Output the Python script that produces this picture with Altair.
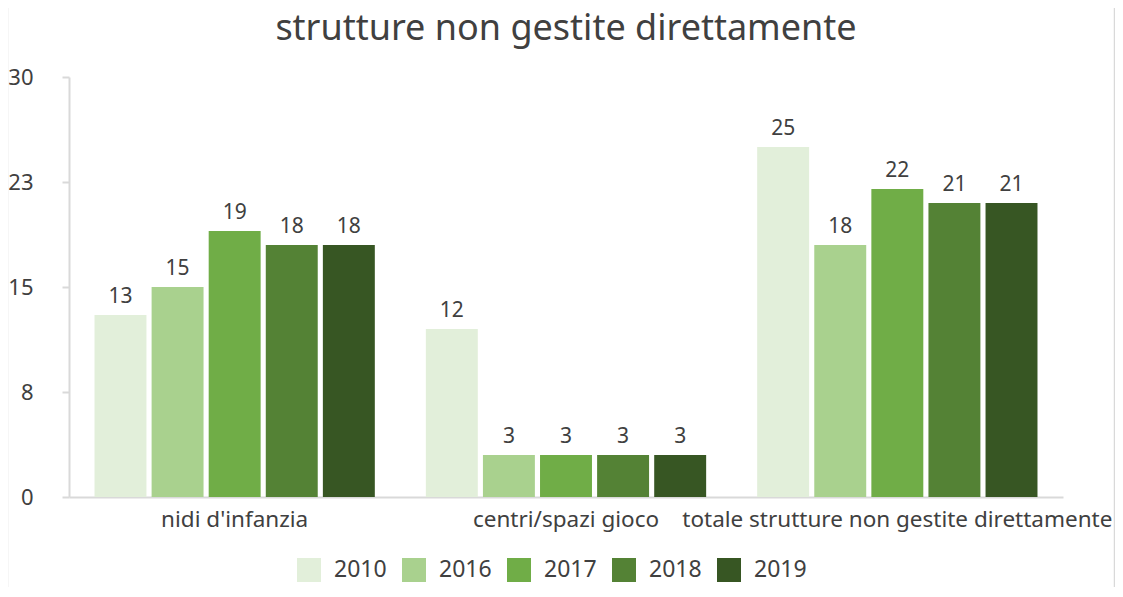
import altair as alt
import pandas as pd

categories = ["nidi d'infanzia", "centri/spazi gioco", "totale strutture non gestite direttamente"]
years = ["2010", "2016", "2017", "2018", "2019"]
v2010 = [13, 12, 25]
v2016 = [15, 3, 18]
v2017 = [19, 3, 22]
v2018 = [18, 3, 21]
v2019 = [18, 3, 21]
colors = ["#E2EFDA", "#A9D18E", "#70AD47", "#548235", "#375623"]
tick_values = [0, 7.5, 15, 22.5, 30]
tick_labels = ["0", "8", "15", "23", "30"]
title_text = "strutture non gestite direttamente"

series = [v2010, v2016, v2017, v2018, v2019]
rows = []
for y, vals in zip(years, series):
    for c, v in zip(categories, vals):
        rows.append({"categoria": c, "anno": y, "valore": v})
df = pd.DataFrame(rows)

FONT = "Noto Sans"
TXT = "#404040"
GRID = "#d9d9d9"

label_expr = ""
for tv, tl in zip(tick_values, tick_labels):
    label_expr += f"datum.value == {tv} ? '{tl}' : "
label_expr += "datum.label"

x_enc = alt.X("categoria:N", sort=categories,
              scale=alt.Scale(paddingInner=0.154, paddingOuter=0.077),
              axis=alt.Axis(title=None, labelAngle=0, ticks=False, domainColor=GRID,
                            domainWidth=2, labelFontSize=22.5, labelFont=FONT,
                            labelColor=TXT, labelPadding=11, labelLimit=0))
xo_enc = alt.XOffset("anno:N", sort=years, scale=alt.Scale(paddingInner=0.09, paddingOuter=0))
y_enc = alt.Y("valore:Q", scale=alt.Scale(domain=[0, 30], nice=False),
              axis=alt.Axis(title=None, values=tick_values, labelExpr=label_expr,
                            grid=False, domainColor=GRID, domainWidth=2,
                            tickColor=GRID, tickWidth=2, tickSize=7,
                            labelFontSize=22, labelFont=FONT, labelColor=TXT,
                            labelPadding=29))

base = alt.Chart(df)
bars = base.mark_bar().encode(
    x=x_enc, xOffset=xo_enc, y=y_enc,
    color=alt.Color("anno:N", sort=years,
                    scale=alt.Scale(domain=years, range=colors),
                    legend=alt.Legend(title=None, orient="none", direction="horizontal",
                                      legendX=228, legendY=481,
                                      symbolType="square", symbolSize=576,
                                      symbolStrokeWidth=0,
                                      labelFontSize=23, labelFont=FONT, labelColor=TXT,
                                      labelOffset=13, columnPadding=15)),
)
labels = base.mark_text(baseline="alphabetic", dy=-12, fontSize=21, font=FONT, color=TXT).encode(
    x=x_enc, xOffset=xo_enc, y=y_enc, text=alt.Text("valore:Q"))

border = alt.Chart(pd.DataFrame({"k": [0]})).mark_rect(
    filled=False, stroke=GRID, strokeWidth=1.5).encode(
    x=alt.value(-61.5), x2=alt.value(1045.5), y=alt.value(-70), y2=alt.value(560))

chart = alt.layer(border, bars, labels).properties(
    width=994, height=420,
    title=alt.TitleParams(title_text, fontSize=36, font=FONT, color=TXT, fontWeight="normal",
                          anchor="middle", baseline="alphabetic", offset=0, dy=70),
    autosize=alt.AutoSizeParams(type="none"),
    padding={"left": 61, "top": 69, "right": 52, "bottom": 90},
).configure_view(stroke=None)

chart.save("out.html", embed_options={"renderer": "svg", "actions": False})
